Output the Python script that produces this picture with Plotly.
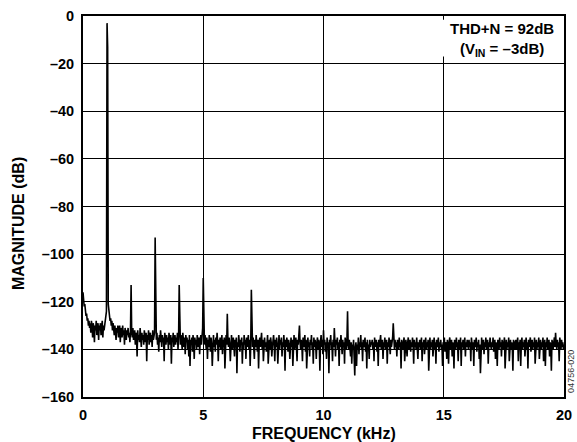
import plotly.graph_objects as go

FREQ_STEP_KHZ = 0.025  # FFT bin spacing of the samples below

magnitude_db = [
    # 0.000 - 0.975 kHz
    -116, -119, -122, -121, -124, -126, -125, -128, -127, -130, -128, -131, -129, -133, -128, -130, -135, -129, -131, -137,
    -130, -132, -128, -134, -131, -129, -136, -130, -132, -129, -134, -131, -128, -135, -130, -132, -129, -127, -126, -124,
    # 1.000 - 1.975 kHz (fundamental)
    -3, -13, -121, -124, -126, -128, -127, -130, -128, -132, -129, -131, -134, -130, -132, -136, -131, -133, -130, -135,
    -132, -130, -137, -131, -133, -135, -130, -134, -132, -138, -131, -133, -136, -132, -134, -131, -135, -133, -137, -132,
    # 2.000 - 2.975
    -113, -133, -135, -131, -136, -134, -132, -138, -133, -135, -143, -132, -136, -134, -137, -131, -135, -139, -133, -136,
    -134, -138, -132, -135, -137, -133, -145, -134, -136, -132, -138, -135, -133, -137, -134, -139, -132, -136, -135, -133,
    # 3.000 - 3.975
    -93, -134, -136, -133, -138, -135, -141, -134, -137, -132, -136, -139, -134, -137, -135, -145, -133, -136, -138, -134,
    -137, -135, -140, -133, -136, -138, -134, -146, -135, -137, -133, -139, -136, -134, -138, -135, -137, -133, -140, -135,
    # 4.000 - 4.975
    -113, -135, -138, -134, -137, -140, -133, -136, -139, -135, -142, -134, -137, -135, -140, -136, -143, -134, -147, -136,
    -138, -135, -141, -134, -137, -144, -135, -138, -136, -140, -134, -137, -139, -135, -142, -136, -134, -138, -135, -131,
    # 5.000 - 5.975
    -110, -135, -138, -134, -137, -140, -135, -144, -136, -139, -134, -137, -141, -135, -138, -147, -136, -134, -139, -136,
    -141, -135, -138, -133, -137, -145, -136, -139, -135, -140, -137, -134, -142, -136, -139, -135, -148, -137, -134, -138,
    # 6.000 - 6.975
    -125, -136, -139, -135, -138, -145, -136, -134, -140, -137, -135, -139, -143, -136, -138, -135, -150, -137, -139, -134,
    -137, -141, -136, -138, -135, -146, -137, -140, -134, -138, -136, -144, -135, -139, -137, -134, -140, -136, -147, -138,
    # 7.000 - 7.975
    -115, -137, -139, -135, -138, -144, -136, -139, -134, -137, -141, -136, -148, -138, -135, -139, -137, -133, -140, -136,
    -145, -138, -135, -139, -137, -141, -136, -134, -146, -138, -136, -140, -135, -137, -143, -139, -136, -134, -138, -145,
    # 8.000 - 8.975
    -136, -139, -135, -138, -146, -137, -134, -140, -136, -138, -135, -143, -137, -139, -134, -138, -149, -136, -139, -135,
    -137, -141, -136, -138, -144, -137, -135, -139, -136, -147, -138, -134, -140, -137, -135, -139, -145, -136, -138, -134,
    # 9.000 - 9.975
    -130, -137, -140, -136, -138, -145, -135, -139, -137, -134, -141, -136, -148, -138, -135, -139, -137, -143, -136, -138,
    -134, -140, -137, -146, -135, -139, -136, -138, -144, -137, -135, -140, -136, -138, -149, -137, -134, -139, -136, -142,
    # 10.000 - 10.975
    -132, -138, -136, -141, -137, -144, -135, -139, -137, -150, -136, -138, -134, -140, -137, -145, -136, -139, -131, -138,
    -143, -136, -138, -135, -140, -137, -147, -136, -139, -134, -138, -142, -136, -139, -137, -146, -135, -138, -140, -136,
    # 11.000 - 11.975
    -124, -138, -140, -136, -139, -143, -137, -146, -138, -140, -136, -144, -151, -139, -137, -147, -138, -140, -135, -142,
    -137, -139, -134, -140, -137, -145, -136, -139, -138, -135, -141, -137, -148, -136, -140, -138, -144, -136, -139, -137,
    # 12.000 - 12.975
    -138, -136, -140, -137, -145, -135, -139, -137, -136, -141, -137, -147, -136, -139, -137, -134, -140, -138, -136, -144,
    -137, -139, -135, -140, -138, -136, -146, -137, -139, -135, -138, -142, -136, -139, -137, -135, -129, -138, -140, -136,
    # 13.000 - 13.975
    -139, -137, -143, -136, -138, -140, -135, -139, -137, -148, -136, -138, -140, -137, -135, -145, -138, -136, -139, -143,
    -137, -135, -140, -138, -136, -141, -137, -139, -135, -138, -146, -136, -139, -137, -140, -135, -138, -144, -137, -139,
    # 14.000 - 14.975
    -136, -140, -138, -135, -145, -137, -139, -136, -142, -138, -135, -140, -137, -139, -136, -149, -138, -135, -140, -137,
    -139, -136, -143, -138, -135, -140, -137, -146, -136, -139, -138, -135, -141, -137, -139, -136, -140, -138, -147, -137,
    # 15.000 - 15.975
    -139, -135, -141, -137, -138, -144, -136, -139, -146, -137, -135, -140, -138, -136, -143, -137, -139, -148, -136, -138,
    -140, -135, -139, -137, -145, -136, -138, -140, -135, -147, -137, -139, -136, -140, -138, -135, -143, -137, -139, -136,
    # 16.000 - 16.975
    -138, -140, -136, -139, -137, -145, -135, -138, -140, -137, -147, -136, -139, -138, -135, -141, -137, -139, -136, -144,
    -138, -150, -137, -135, -140, -138, -136, -142, -137, -139, -135, -140, -138, -136, -146, -137, -139, -135, -138, -140,
    # 17.000 - 17.975
    -137, -139, -135, -141, -138, -136, -144, -137, -139, -147, -136, -138, -140, -135, -139, -137, -143, -136, -138, -140,
    -137, -135, -148, -138, -136, -140, -137, -139, -135, -145, -138, -136, -140, -137, -139, -149, -136, -138, -140, -137,
    # 18.000 - 18.975
    -136, -140, -138, -135, -145, -137, -139, -136, -147, -138, -135, -140, -137, -139, -136, -143, -138, -135, -140, -137,
    -148, -136, -139, -137, -135, -141, -138, -136, -140, -137, -139, -135, -146, -138, -136, -140, -137, -139, -135, -144,
    # 19.000 - 19.975
    -138, -136, -140, -137, -139, -135, -145, -138, -136, -147, -137, -139, -135, -140, -138, -136, -143, -137, -139, -149,
    -136, -138, -140, -137, -135, -139, -133, -138, -140, -136, -139, -137, -145, -135, -138, -140, -136, -139, -137, -140,
    # 20.000
    -138,
]

frequency_khz = [i * FREQ_STEP_KHZ for i in range(len(magnitude_db))]

x_tick_vals = [0, 5, 10, 15, 20]
x_tick_text = ["0", "5", "10", "15", "20"]
y_tick_vals = [0, -20, -40, -60, -80, -100, -120, -140, -160]
y_tick_text = ["0", "–20", "–40", "–60", "–80", "–100", "–120", "–140", "–160"]

FONT = "Liberation Sans, Arial, sans-serif"
TICK_FONT = dict(family=FONT, size=14.5, color="black", weight="bold")

fig = go.Figure()
fig.add_trace(go.Scatter(
    x=frequency_khz, y=magnitude_db, mode="lines",
    line=dict(color="black", width=1.6), showlegend=False, hoverinfo="skip",
))

fig.update_layout(
    width=577, height=442,
    margin=dict(l=83, r=13, t=16, b=45, autoexpand=False),
    paper_bgcolor="white", plot_bgcolor="white",
    font=dict(family=FONT, color="black"),
    xaxis=dict(
        range=[0, 20], tickvals=x_tick_vals, ticktext=x_tick_text,
        showgrid=True, gridcolor="black", gridwidth=1,
        showline=True, linecolor="black", linewidth=2, mirror=True,
        ticks="", zeroline=False, automargin=False, ticklabelstandoff=4,
        tickfont=TICK_FONT,
    ),
    yaxis=dict(
        range=[-160, 0], tickvals=y_tick_vals, ticktext=y_tick_text,
        showgrid=True, gridcolor="black", gridwidth=1,
        showline=True, linecolor="black", linewidth=2, mirror=True,
        ticks="", zeroline=False, automargin=False, ticklabelstandoff=4,
        tickfont=TICK_FONT,
    ),
)

# axis titles
fig.add_annotation(xref="paper", yref="paper", x=0.5, y=-0.0945, xanchor="center", yanchor="middle",
                   text="<b>FREQUENCY (kHz)</b>", showarrow=False,
                   font=dict(family=FONT, size=16, color="black"))
fig.add_annotation(xref="paper", yref="paper", x=-0.135, y=0.454, xanchor="center", yanchor="middle",
                   text="<b>MAGNITUDE (dB)</b>", textangle=-90, showarrow=False,
                   font=dict(family=FONT, size=16, color="black"))

# white box behind the annotation, hiding the grid in that cell
fig.add_shape(type="rect", xref="x", yref="y", x0=14.96, x1=19.94, y0=-17.0, y1=-1.6,
              fillcolor="white", line=dict(width=0), layer="above")

fig.add_annotation(
    xref="x", yref="y", x=17.42, y=-9.97, xanchor="center", yanchor="middle",
    text="<b>THD+N = 92dB<br>(V<sub>IN</sub> = –3dB)</b>",
    showarrow=False, align="center",
    font=dict(family=FONT, size=15, color="black"),
)

fig.add_annotation(
    xref="paper", yref="paper", x=1.0146, y=0.066, xanchor="center", yanchor="middle",
    text="04756-020", textangle=-90, showarrow=False,
    font=dict(family=FONT, size=9, color="#333333"),
)

fig.write_html("out.html")
